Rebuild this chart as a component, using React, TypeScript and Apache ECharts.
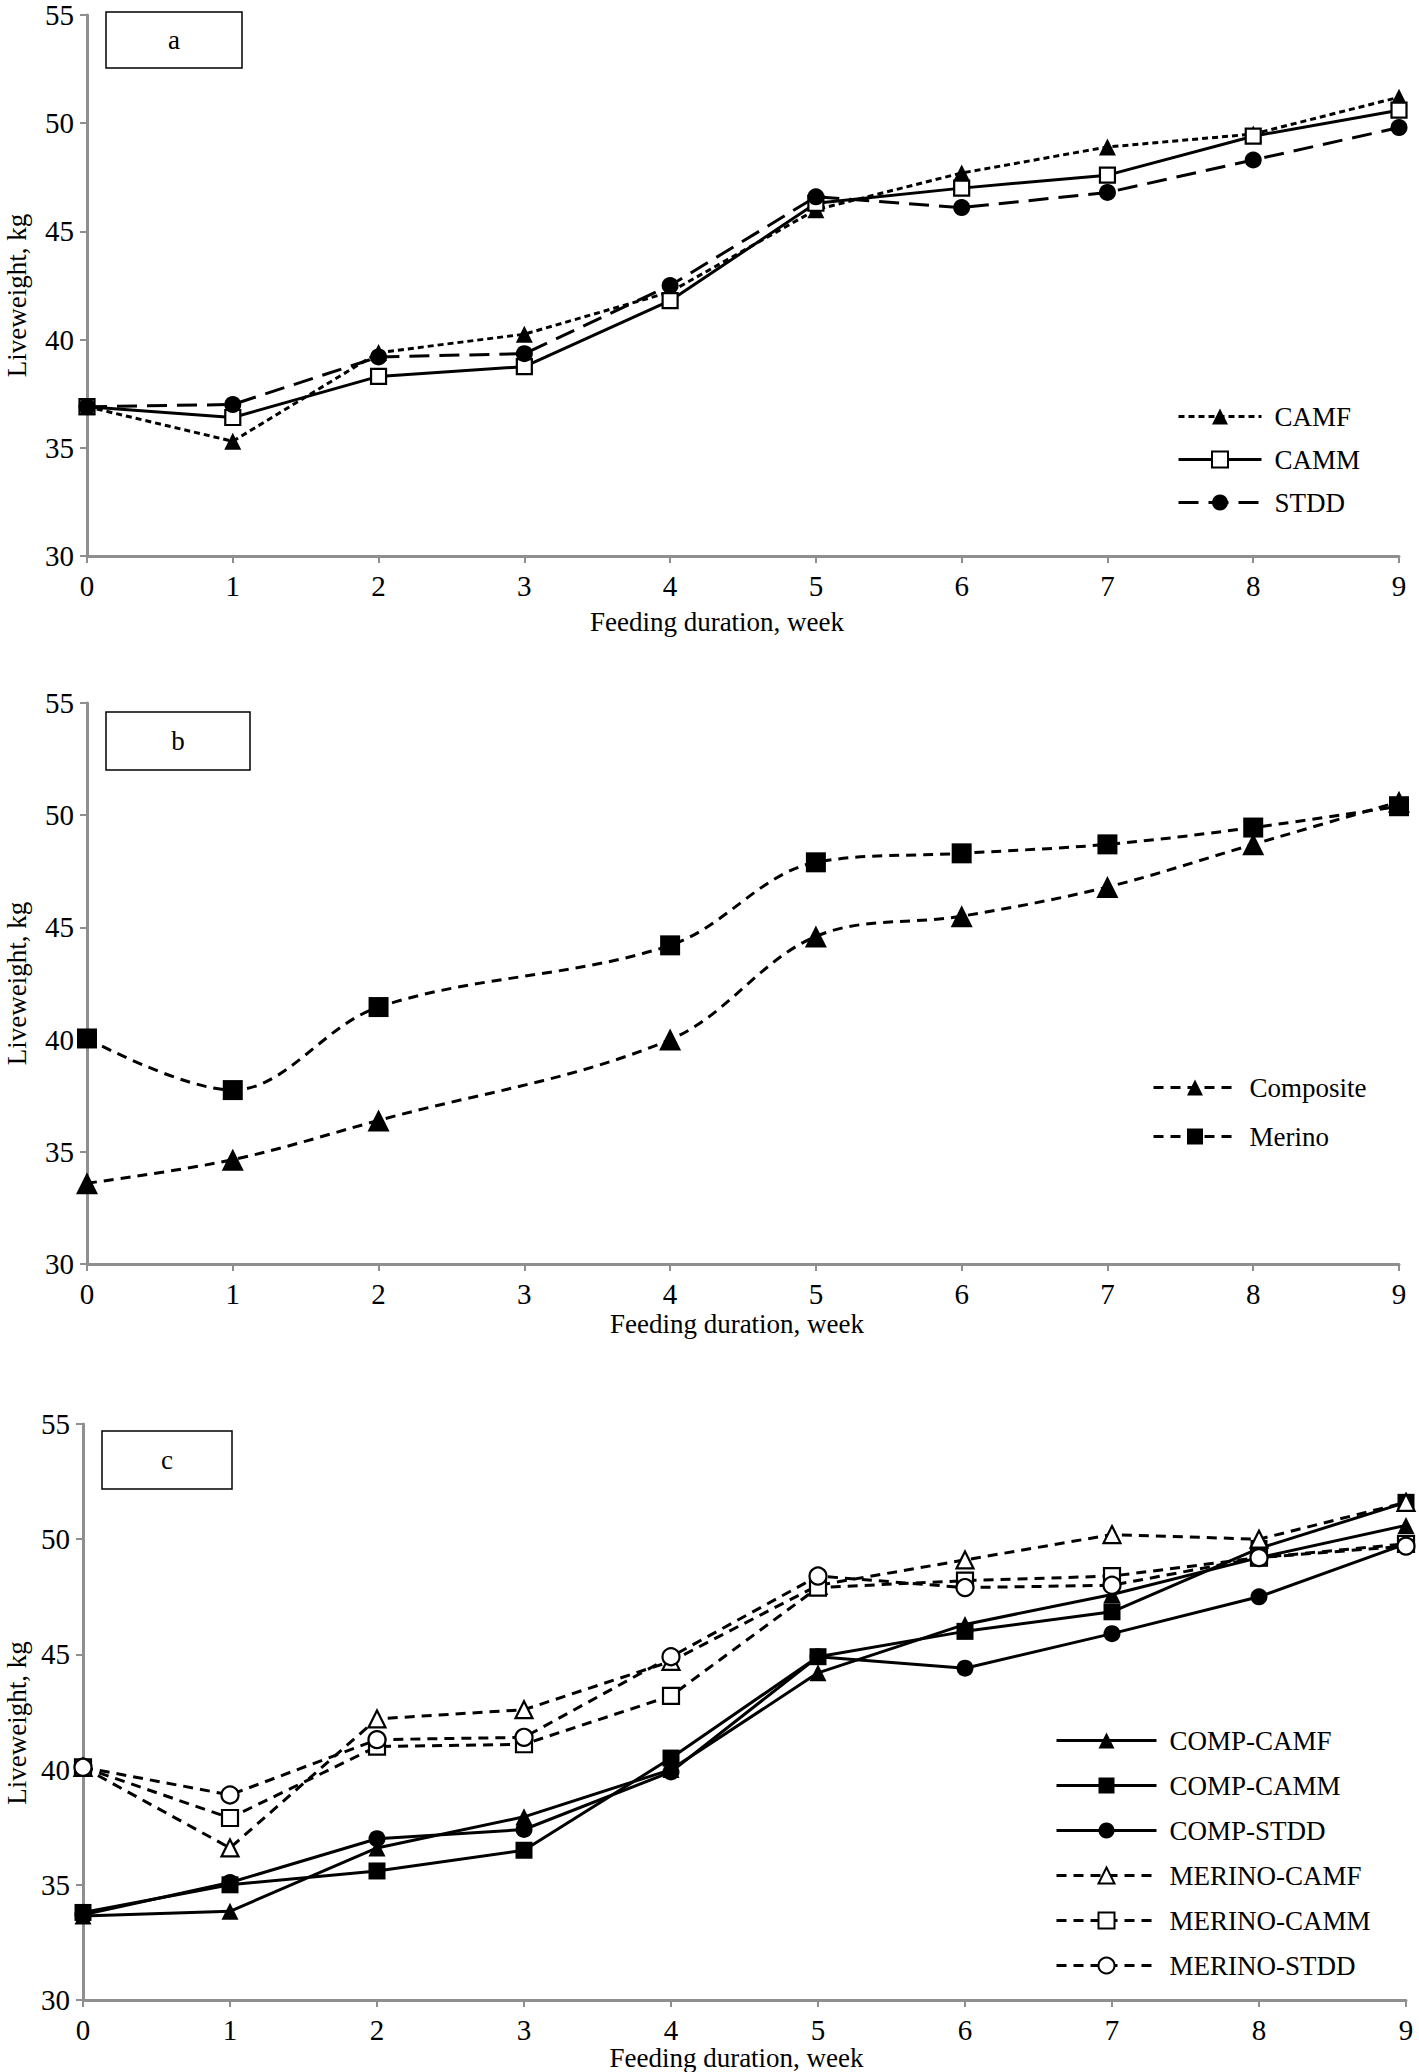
import React, { useEffect, useRef } from "react";
import * as echarts from "echarts";

const weeks = [0, 1, 2, 3, 4, 5, 6, 7, 8, 9];
const weeksB = [0, 1, 2, 4, 5, 6, 7, 8, 9];
const yTicks = [30, 35, 40, 45, 50, 55];

// Panel a
const aCAMF = [36.9, 35.3, 39.4, 40.25, 42.2, 46.0, 47.7, 48.9, 49.5, 51.2];
const aCAMM = [36.9, 36.4, 38.3, 38.75, 41.8, 46.3, 47.0, 47.6, 49.4, 50.6];
const aSTDD = [36.9, 37.0, 39.2, 39.35, 42.5, 46.6, 46.1, 46.8, 48.3, 49.8];

// Panel b (no observation at week 3)
const bComposite = [33.6, 34.65, 36.4, 40.0, 44.6, 45.5, 46.8, 48.7, 50.6];
const bMerino = [40.05, 37.75, 41.45, 44.2, 47.9, 48.3, 48.7, 49.45, 50.4];

// Panel c
const cCompCAMF = [33.65, 33.85, 36.6, 37.95, 40.0, 44.2, 46.3, 47.6, 49.2, 50.6];
const cCompCAMM = [33.8, 35.0, 35.6, 36.5, 40.5, 44.9, 46.0, 46.85, 49.6, 51.6];
const cCompSTDD = [33.7, 35.1, 37.0, 37.4, 39.9, 44.9, 44.4, 45.9, 47.5, 49.8];
const cMerCAMF = [40.1, 36.6, 42.2, 42.6, 44.7, 48.0, 49.1, 50.2, 50.0, 51.6];
const cMerCAMM = [40.1, 37.9, 41.0, 41.1, 43.2, 47.9, 48.2, 48.4, 49.2, 49.8];
const cMerSTDD = [40.1, 38.9, 41.3, 41.4, 44.9, 48.4, 47.9, 48.0, 49.2, 49.7];

const FONT = "Liberation Serif";
const GRAY = "#8f8f8f";

function pairs(xs: number[], ys: number[]) {
  return xs.map((x, i) => [x, ys[i]]);
}

function mk(
  name: string,
  xs: number[],
  ys: number[],
  idx: number,
  symbol: string,
  filled: boolean,
  dash: any,
  size: number,
  smooth: number | boolean = false
) {
  return {
    type: "line",
    name,
    xAxisIndex: idx,
    yAxisIndex: idx,
    data: pairs(xs, ys),
    symbol,
    symbolSize: size,
    smooth,
    showSymbol: true,
    lineStyle: { color: "#000", width: 3, type: dash },
    itemStyle: filled
      ? { color: "#000", borderColor: "#000", borderWidth: 0 }
      : { color: "#fff", borderColor: "#000", borderWidth: 2.2 },
    emphasis: { disabled: true },
    z: 3,
  };
}

function xAxis(idx: number, nameGap: number, shiftPad: number) {
  return {
    type: "value",
    gridIndex: idx,
    min: 0,
    max: 9,
    interval: 1,
    name: "Feeding duration, week",
    nameLocation: "middle",
    nameGap,
    nameTextStyle: {
      fontFamily: FONT,
      fontSize: 27,
      color: "#000",
      padding: [0, shiftPad, 0, 0],
    },
    axisLine: { show: true, onZero: false, lineStyle: { color: GRAY, width: 3 } },
    axisTick: { show: true, length: 7, lineStyle: { color: GRAY, width: 2 } },
    axisLabel: { fontFamily: FONT, fontSize: 29, color: "#000", margin: 15 },
    splitLine: { show: false },
  };
}

function yAxis(idx: number, nameGap: number, downPad: number) {
  return {
    type: "value",
    gridIndex: idx,
    min: yTicks[0],
    max: yTicks[yTicks.length - 1],
    interval: 5,
    name: "Liveweight, kg",
    nameLocation: "middle",
    nameGap,
    nameRotate: 90,
    nameTextStyle: {
      fontFamily: FONT,
      fontSize: 27,
      color: "#000",
      padding: [0, downPad, 0, 0],
    },
    axisLine: { show: true, lineStyle: { color: GRAY, width: 3 } },
    axisTick: { show: true, length: 7, lineStyle: { color: GRAY, width: 2 } },
    axisLabel: { fontFamily: FONT, fontSize: 29, color: "#000", margin: 13 },
    splitLine: { show: false },
  };
}

function legend(names: string[], left: number, top: number, itemWidth: number, gap: number) {
  return {
    data: names,
    orient: "vertical",
    left,
    top,
    itemWidth,
    itemHeight: 20,
    itemGap: gap,
    selectedMode: false,
    textStyle: { fontFamily: FONT, fontSize: 27, color: "#000", padding: [0, 0, 0, 8] },
    lineStyle: { width: 3 },
  };
}

function box(x: number, y: number, w: number, h: number, label: string) {
  return [
    {
      type: "rect",
      shape: { x, y, width: w, height: h },
      style: { fill: "#fff", stroke: "#000", lineWidth: 1.5 },
      z: 10,
    },
    {
      type: "text",
      x: x + w / 2,
      y: y + h / 2,
      style: {
        text: label,
        fontFamily: FONT,
        fontSize: 27,
        fill: "#000",
        align: "center",
        verticalAlign: "middle",
      },
      z: 11,
    },
  ];
}

export default function App() {
  const ref = useRef<HTMLDivElement>(null);
  useEffect(() => {
    document.body.style.margin = "0";
    const chart = echarts.init(ref.current!, null, { renderer: "svg" });
    const shortDash = [6, 4];
    const longDash = [20, 10];
    const midDash = [10, 7];
    chart.setOption({
      animation: false,
      backgroundColor: "#fff",
      textStyle: { fontFamily: FONT },
      grid: [
        { left: 87, right: 20, top: 15, height: 541, outerBoundsMode: "none", containLabel: false },
        { left: 87, right: 20, top: 703, height: 561, outerBoundsMode: "none", containLabel: false },
        { left: 83, right: 13, top: 1424, height: 576, outerBoundsMode: "none", containLabel: false },
      ],
      xAxis: [xAxis(0, 52, 52), xAxis(1, 46, 12), xAxis(2, 35, 16)],
      yAxis: [yAxis(0, 57, 20), yAxis(1, 57, 0), yAxis(2, 53, 22)],
      legend: [
        legend(["CAMF", "CAMM", "STDD"], 1172, 398, 83, 16),
        legend(["Composite", "Merino"], 1147, 1069, 83, 22),
        legend(
          ["COMP-CAMF", "COMP-CAMM", "COMP-STDD", "MERINO-CAMF", "MERINO-CAMM", "MERINO-STDD"],
          1050,
          1722,
          100,
          18
        ),
      ],
      graphic: [
        ...box(106, 12, 136, 56, "a"),
        ...box(106, 712, 144, 58, "b"),
        ...box(102, 1431, 130, 58, "c"),
      ],
      series: [
        mk("CAMF", weeks, aCAMF, 0, "triangle", true, shortDash, 17),
        mk("CAMM", weeks, aCAMM, 0, "rect", false, "solid", 15),
        mk("STDD", weeks, aSTDD, 0, "circle", true, longDash, 17),
        mk("Composite", weeksB, bComposite, 1, "triangle", true, midDash, 22, 0.35),
        mk("Merino", weeksB, bMerino, 1, "rect", true, midDash, 20, 0.35),
        mk("COMP-CAMF", weeks, cCompCAMF, 2, "triangle", true, "solid", 17),
        mk("COMP-CAMM", weeks, cCompCAMM, 2, "rect", true, "solid", 17),
        mk("COMP-STDD", weeks, cCompSTDD, 2, "circle", true, "solid", 17),
        mk("MERINO-CAMF", weeks, cMerCAMF, 2, "triangle", false, midDash, 17),
        mk("MERINO-CAMM", weeks, cMerCAMM, 2, "rect", false, midDash, 16),
        mk("MERINO-STDD", weeks, cMerSTDD, 2, "circle", false, midDash, 17),
      ],
    });
    return () => chart.dispose();
  }, []);
  return <div ref={ref} style={{ width: 1419, height: 2072 }} />;
}
